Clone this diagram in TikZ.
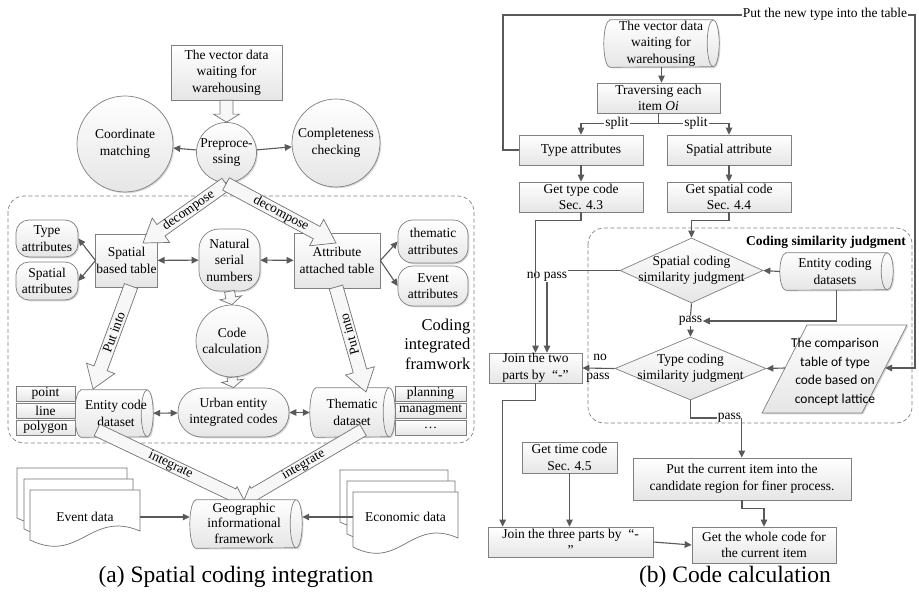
\documentclass[tikz,border=0pt]{standalone}
\usepackage{fontspec}
\setmainfont{Liberation Serif}
\newfontfamily\carl{Carlito}
\usetikzlibrary{shapes.geometric,arrows.meta,calc,shadows}
\tikzset{
  every node/.style={font=\fontsize{13.5}{16.5}\selectfont, align=center, inner sep=0.5pt},
  gfill/.style={top color=white, bottom color=black!10},
  shad/.style={drop shadow={shadow xshift=1.3pt, shadow yshift=-1.3pt, opacity=0.3}},
  bx/.style={rectangle, draw=black!50, line width=0.7pt, gfill, shad},
  rbx/.style={rectangle, draw=black!50, line width=0.7pt, gfill, shad},
  circ/.style={circle, draw=black!50, line width=0.7pt, gfill, shad, inner sep=0pt},
  cylst/.style={draw=black!50, line width=0.7pt, gfill, shad},
  cyledge/.style={draw=black!50, line width=0.7pt},
  dia/.style={diamond, draw=black!50, line width=0.7pt, gfill, inner sep=0pt},
  sbox/.style={rectangle, draw=black!50, line width=0.7pt, gfill, minimum height=15pt, inner sep=0pt},
  ln/.style={draw=black!65, line width=1.1pt},
  ar/.style={ln, -{Triangle[length=7pt,width=6.5pt]}},
  dar/.style={ln, {Triangle[length=7pt,width=6.5pt]}-{Triangle[length=7pt,width=6.5pt]}},
  fatst/.style={draw=black!55, line width=0.7pt, fill=black!3, line join=miter},
  docst/.style={draw=black!55, line width=0.7pt, fill=white},
  dframe/.style={draw=black!50, line width=0.7pt, dash pattern=on 4pt off 2.5pt, rounded corners=16pt},
  lbl/.style={fill=white, inner sep=1pt}
}
% fat hollow arrow: from #1 to #2, shaft half width #3, head half width #4, head length #5
\newcommand{\fatarr}[5]{%
  \coordinate (fa-c) at ($(#2)!#5!(#1)$);
  \draw[fatst] ($(#1)!#3!90:(#2)$) -- ($(fa-c)!#3!90:(#2)$) -- ($(fa-c)!#4!90:(#2)$) -- (#2)
     -- ($(fa-c)!#4!-90:(#2)$) -- ($(fa-c)!#3!-90:(#2)$) -- ($(#1)!#3!-90:(#2)$) -- cycle;}
% document shape: x0 y0 x1 ybottom(left)
\newcommand{\docsh}[4]{%
  \draw[docst] (#1,#2) -- (#3,#2) -- (#3,{#4-9}) .. controls ({#3-0.45*(#3-#1)},{#4-30}) and ({#1+0.45*(#3-#1)},{#4+24}) .. (#1,#4) -- cycle;}
% horizontal cylinder: name, x, y, width, height
\newcommand{\cylshape}[5]{%
  \node[minimum width=#4pt, minimum height=#5pt, inner sep=0pt] (#1) at (#2,#3) {};
  \draw[cylst] ($(#1.north west)+(6,0)$) -- ($(#1.north east)+(-6,0)$)
     arc[start angle=90, end angle=-90, x radius=6pt, y radius={#5*0.5pt}]
     -- ($(#1.south west)+(6,0)$)
     arc[start angle=270, end angle=90, x radius=6pt, y radius={#5*0.5pt}] -- cycle;
  \draw[cyledge] ($(#1.north east)+(-6,0)$) arc[start angle=90, end angle=270, x radius=6pt, y radius={#5*0.5pt}];}
\begin{document}
\begin{tikzpicture}[x=1pt,y=-1pt]
\useasboundingbox (0,0) rectangle (919,596);
\fill[white] (0,0) rectangle (919,596);

% ================= (a) =================
\draw[dframe] (8,196) rectangle (474,443);

\node[bx, minimum width=111pt, minimum height=55pt] (vec) at (226.5,72.5) {The vector data\\waiting for\\warehousing};
\node[circ, minimum size=60pt] (pre) at (226.5,152.5) {};
\node at (pre) {Preproce-\\ssing};
\node[circ, minimum size=96pt] (coord) at (125,144) {Coordinate\\matching};
\node[circ, minimum size=88pt] (compl) at (336,143) {Completeness\\checking};
\fatarr{vec.south}{pre.north}{6.5pt}{13pt}{8pt}
\draw[ar] (pre) -- (coord);
\draw[ar] (pre) -- (compl);

\node[rbx, rounded corners=13pt, minimum width=62pt, minimum height=37pt] (tyA) at (47,238.5) {Type\\attributes};
\node[rbx, rounded corners=13pt, minimum width=62pt, minimum height=38pt] (spA) at (47,281) {Spatial\\attributes};
\node[bx, minimum width=61pt, minimum height=53pt] (sbt) at (126.5,260.5) {Spatial\\based table};
\node[rbx, rounded corners=20pt, minimum width=61pt, minimum height=62pt] (nat) at (229.5,260) {Natural\\serial\\numbers};
\node[bx, minimum width=86pt, minimum height=55pt] (aat) at (337,260.5) {Attribute\\attached table};
\node[rbx, rounded corners=15pt, minimum width=70pt, minimum height=43pt] (thA) at (433,241.5) {thematic\\attributes};
\node[rbx, rounded corners=15pt, minimum width=70pt, minimum height=40pt] (evA) at (433,286) {Event\\attributes};

\draw[ar] (sbt.west) -- (tyA.east);
\draw[ar] (sbt.west) -- (spA.east);
\draw[ar] (aat.east) -- (thA.west);
\draw[ar] (aat.east) -- (evA.west);
\draw[dar] (sbt) -- (nat);
\draw[dar] (nat) -- (aat);

\node[circ, minimum size=72pt] (calc) at (232,341) {};
\node at (calc) {Code\\calculation};
\fatarr{nat.south}{calc.north}{5pt}{11pt}{7pt}

\node[rbx, rounded corners=24pt, minimum width=111pt, minimum height=49pt] (urb) at (233.5,412.5) {Urban entity\\integrated codes};
\fatarr{calc.south}{urb.north}{5pt}{11pt}{7pt}

\cylshape{ecd}{114}{413.5}{78}{47}
\node at (116,413.5) {Entity code\\dataset};
\cylshape{thd}{352.5}{412.5}{85}{49}
\node at (352,412.5) {Thematic\\dataset};

\node[sbox, minimum width=59pt] (pt) at (45.5,393.5) {point};
\node[sbox, minimum width=59pt] (lnb) at (45.5,410.5) {line};
\node[sbox, minimum width=59pt] (pg) at (45.5,427.5) {polygon};
\node[sbox, minimum width=71pt] (pl) at (430.5,393.5) {planning};
\node[sbox, minimum width=71pt] (mg) at (430.5,410.5) {managment};
\node[sbox, minimum width=71pt] (dt) at (430.5,428) {…};

\draw[dar] (ecd) -- (urb);
\draw[dar] (urb) -- (thd);

% decompose arrows
\coordinate (dc0) at (226,184);
\coordinate (dcL) at (143,243);
\coordinate (dcR) at (336,243);
\fatarr{dc0}{dcL}{7pt}{15pt}{22pt}
\fatarr{dc0}{dcR}{7pt}{15pt}{22pt}
\node[rotate=35.4] at ($(dc0)!0.45!(dcL)$) {decompose};
\node[rotate=-28.2] at ($(dc0)!0.5!(dcR)$) {decompose};

% put into arrows
\coordinate (pL0) at (131,286);
\coordinate (pL1) at (93,389);
\coordinate (pR0) at (336,287);
\coordinate (pR1) at (366,392);
\fatarr{pL0}{pL1}{7pt}{15pt}{22pt}
\fatarr{pR0}{pR1}{7pt}{15pt}{22pt}
\node[rotate=69.7] at ($(pL0)!0.45!(pL1)$) {Put into};
\node[rotate=105.6] at ($(pR0)!0.45!(pR1)$) {Put into};

\node[font=\fontsize{16.5}{19.5}\selectfont, align=right, anchor=east] (cif) at (471,344) {Coding\\integrated\\framwork};

% integrate arrows
\coordinate (iL0) at (97,430);
\coordinate (iR0) at (363,430);
\coordinate (iT) at (244,500);
\fatarr{iL0}{iT}{6.5pt}{9pt}{12pt}
\fatarr{iR0}{iT}{6.5pt}{9pt}{12pt}
\node[rotate=-25.3] at ($(iL0)!0.5!(iT)$) {integrate};
\node[rotate=29.9] at ($(iR0)!0.5!(iT)$) {integrate};
\cylshape{geo}{246}{524}{112}{48}
\node[font=\fontsize{13.5}{15.5}\selectfont] at (244,523) {Geographic\\informational\\framework};

% documents
\docsh{17}{468}{127}{518}
\docsh{24}{479}{133}{529}
\docsh{30}{490}{140}{540}
\node[minimum width=110pt, minimum height=40pt] (evd) at (85,517) {Event data};
\docsh{340}{470}{448}{522}
\docsh{347}{481}{455}{534}
\docsh{353}{492}{458}{547}
\node[minimum width=105pt, minimum height=40pt] (eco) at (405.5,517) {Economic data};
\draw[ar] (evd.east) -- (evd.east -| geo.west);
\draw[ar] (eco.west) -- (eco.west -| geo.east);

\node[font=\fontsize{23.5}{28}\selectfont] (capa) at (236,577) {(a) Spatial coding integration};

% ================= (b) =================
\draw[dframe] (588,228) rectangle (912,423);
\node[font=\fontsize{13.5}{16.5}\selectfont\bfseries] (csj) at (826,242) {Coding similarity judgment};

\cylshape{vd}{661.5}{43.5}{115}{47}
\node at (661,43.5) {The vector data\\waiting for\\warehousing};
\node[bx, minimum width=123pt, minimum height=30pt] (trav) at (658.5,98) {Traversing each\\item \textit{Oi}};
\node[bx, minimum width=124pt, minimum height=30pt] (tya) at (581,150) {Type attributes};
\node[bx, minimum width=124pt, minimum height=30pt] (spa) at (729,150) {Spatial attribute};
\node[bx, minimum width=124pt, minimum height=30pt] (gtc) at (581,197) {Get type code\\Sec. 4.3};
\node[bx, minimum width=124pt, minimum height=30pt] (gsc) at (729,197) {Get spatial code\\Sec. 4.4};

\draw[ar] (vd.south) -- (vd.south |- trav.north);
\draw[ln] (trav.south) -- ++(0,10) coordinate (sp);
\draw[ar] (sp) -| (tya.north);
\draw[ar] (sp) -| (spa.north);
\node[lbl] at (617,123) {split};
\node[lbl] at (696,123) {split};
\draw[ar] (tya) -- (gtc);
\draw[ar] (spa) -- (gsc);

\node[dia, minimum width=143pt, minimum height=65pt] (d1) at (691.5,270.5) {};
\node at (d1) {Spatial coding\\similarity judgment};
\cylshape{ecs}{836.5}{271.5}{113}{37}
\node at (835,271.5) {Entity coding\\datasets};
\node (pass1) at (690.5,321) {pass};
\node[dia, minimum width=151pt, minimum height=63pt] (d2) at (690.5,368.5) {};
\node at (d2) {Type coding\\similarity judgment};

\draw[draw=black!50, line width=0.7pt, gfill, shad] (807,325) -- (907,325) -- (862,413) -- (762,413) -- cycle;
\node[font=\carl\fontsize{13.5}{18.5}\selectfont] (para) at (835,372) {The comparison\\table of type\\code based on\\concept lattice};
\coordinate (paraE) at (885,368);
\coordinate (paraW) at (785,368);

\node[bx, minimum width=93pt, minimum height=30pt] (j2) at (535.5,368) {Join the two\\parts by \ “-”};
\node (np1) at (547,277) {no pass};
\node (pass2) at (729.5,418) {pass};
\node at (600,357) {no};
\node at (598,378) {pass};

\node[bx, minimum width=218pt, minimum height=42pt] (pcur) at (742,479) {Put the current item into the\\candidate region for finer process.};
\node[bx, minimum width=144pt, minimum height=36pt] (gwc) at (764,545) {Get the whole code for\\the current item};
\node[bx, minimum width=95pt, minimum height=31pt] (gtm) at (569.5,457.5) {Get time code\\Sec. 4.5};
\node[bx, minimum width=165pt, minimum height=30pt] (j3) at (570.5,542) {Join the three parts by \ “-\\”};

\coordinate (fb1) at (503,15);
\coordinate (fb2) at (915,15);
\draw[ar] (tya.west) -| (fb1) -- (fb2) |- (paraE);
\node[lbl] at (825,14.5) {Put the new type into the table};

\draw[ar] (gtc.south) -- ++(0,8) -| (j2.north);
\draw[ar] (gsc.south) -- ++(0,8) -| (d1.north);
\draw[ln] (d1.west) -- (np1.east |- d1.west);
\draw[ar] (np1.south) -- (np1.south |- j2.north);
\draw[ar] (ecs.west) -- (d1.east);
\draw[ln] (d1.south) -- (pass1.north);
\draw[ar] (pass1.south) -- (d2.north);
\draw[ar] (ecs.south) |- (pass1.east);
\draw[ar] (paraW) -- (d2.east);
\draw[ar] (d2.west) -- (j2.east);
\draw[ln] (d2.south) |- (pass2.west);
\draw[ar] (pass2.east) -- (pass2.east |- pcur.north);
\draw[ar] (pcur.south) -- ++(0,8) -| (gwc.north);
\draw[ar] (gtm.south) -- (gtm.south |- j3.north);
\draw[ar] (j2.south) -- ++(0,17) -| ($(j3.north west)+(15,0)$);
\draw[ar] (j3.east) -- (gwc.west);

\node[font=\fontsize{23.5}{28}\selectfont] (capb) at (735,577) {(b) Code calculation};
\end{tikzpicture}
\end{document}
